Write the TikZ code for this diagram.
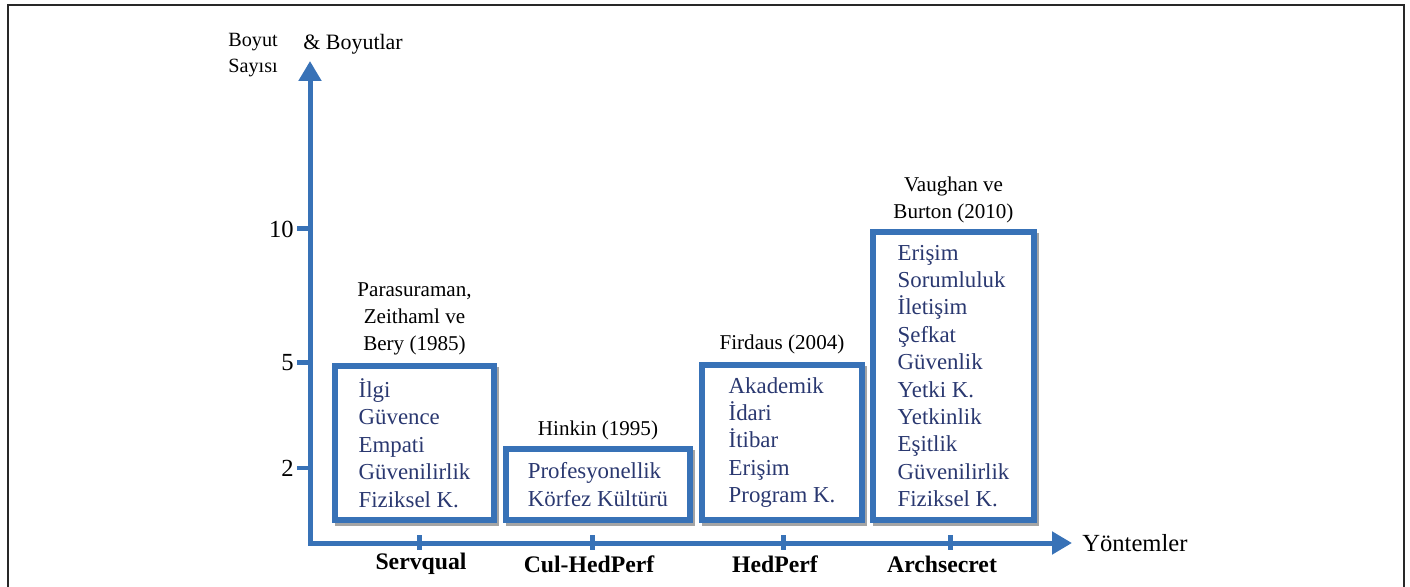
\documentclass[tikz,border=0pt]{standalone}
\usepackage{fontspec}
\setmainfont{Liberation Serif}
\usepackage{tikz}
\usetikzlibrary{positioning}
\usetikzlibrary{arrows.meta}
\usepackage{xcolor}
\definecolor{axisblue}{RGB}{56,114,183}
\definecolor{itemnavy}{RGB}{42,56,112}
\definecolor{shadowgray}{RGB}{165,165,165}
\definecolor{framegray}{RGB}{40,40,40}

\begin{document}
\begin{tikzpicture}[x=0.02cm, y=-0.02cm,
  every node/.style={font=\fontsize{12}{15.4}\selectfont, inner sep=0pt},
  axis/.style={axisblue, line width=0.1cm},
  dimbox/.style={draw=axisblue, fill=white, line width=0.12cm, align=left, text=itemnavy,
    font=\fontsize{13}{15.6}\selectfont,
    preaction={draw=shadowgray, line width=0.12cm,
      transform canvas={shift={(0.05cm,-0.07cm)}}}},
  ref/.style={align=center},
  method/.style={font=\fontsize{13.5}{16}\selectfont\bfseries}]

\useasboundingbox (0,0) rectangle (1410,587);
\draw[framegray, line width=0.04cm] (8,587) -- (8,5) -- (1404,5) -- (1404,587);

% axes
\coordinate (O) at (310,543);
\coordinate (ytop) at (310,61);
\coordinate (xend) at (1072,543);
\draw[axis, {Triangle[length=0.4cm,width=0.44cm]}-{Triangle[length=0.4cm,width=0.44cm]}]
    (ytop) -- (O) -- (xend);

\foreach \n/\yy in {10/229,5/363,2/468} {
  \draw[axis] (297,\yy) -- (310,\yy);
  \node[anchor=east, font=\fontsize{14}{16}\selectfont] (tick\n) at (294,\yy) {\n};
}
\foreach \xx in {419,592,783,950}
  \draw[axis] (\xx,535) -- (\xx,550);

\node[anchor=north west, align=left, font=\fontsize{11.5}{14.7}\selectfont] (ycap) at (228,33) {Boyut\\Sayısı};
\node[anchor=west, font=\fontsize{12.5}{15}\selectfont] (ycap2) at (303,44) {\& Boyutlar};
\node[anchor=west, font=\fontsize{14}{16}\selectfont] (xcap) at (1082,543) {Yöntemler};

\node[method] (m1) at (421,564) {Servqual};
\node[method] (m2) at (589,564) {Cul-HedPerf};
\node[method] (m3) at (775,564) {HedPerf};
\node[method] (m4) at (942,564) {Archsecret};

% boxes
\node[dimbox, minimum width=3.18cm, minimum height=3.08cm] (servq) at (414.5,443)
  {İlgi\\Güvence\\Empati\\Güvenilirlik\\Fiziksel K.};
\node[dimbox, minimum width=3.68cm, minimum height=1.42cm] (culhp) at (598,484.5)
  {Profesyonellik\\Körfez Kültürü};
\node[dimbox, minimum width=3.2cm, minimum height=3.1cm] (hedp) at (782,442.5)
  {Akademik\\İdari\\İtibar\\Erişim\\Program K.};
\node[dimbox, minimum width=3.22cm, minimum height=5.76cm] (arch) at (953.5,376)
  {Erişim\\Sorumluluk\\İletişim\\Şefkat\\Güvenlik\\Yetki K.\\Yetkinlik\\Eşitlik\\Güvenilirlik\\Fiziksel K.};

\node[ref, above=0.15cm of servq] (servq-ref) {Parasuraman,\\Zeithaml ve\\Bery (1985)};
\node[ref, above=0.12cm of culhp] (culhp-ref) {Hinkin (1995)};
\node[ref, above=0.16cm of hedp] (hedp-ref) {Firdaus (2004)};
\node[ref, above=0.12cm of arch] (arch-ref) {Vaughan ve\\Burton (2010)};
\end{tikzpicture}
\end{document}
